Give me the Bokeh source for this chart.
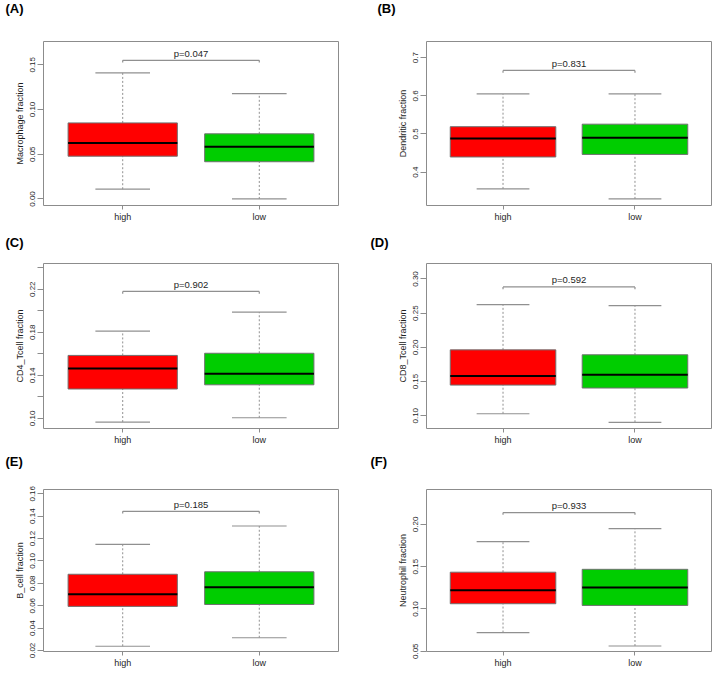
from bokeh.plotting import figure
from bokeh.layouts import gridplot
from bokeh.models import Range1d, FixedTicker, PrintfTickFormatter, ColumnDataSource
from bokeh.core.properties import value
from bokeh.embed import file_html
from bokeh.resources import INLINE

# ---------------- data ----------------
groups = ["high", "low"]
group_pos = [1, 2]
group_colors = ["#FF0000", "#00CD00"]

# (A) Macrophage
macro_lower = [0.0109, 0.0000]
macro_q1 = [0.0478, 0.0416]
macro_median = [0.0626, 0.0583]
macro_q3 = [0.0850, 0.0728]
macro_upper = [0.1410, 0.1177]
macro_p = "p=0.047"
macro_bracket = 0.155
macro_ylim = [-0.0073, 0.1760]
macro_ticks = [0.00, 0.05, 0.10, 0.15]

# (B) Dendritic
dend_lower = [0.3558, 0.3297]
dend_q1 = [0.4396, 0.4463]
dend_median = [0.4880, 0.4898]
dend_q3 = [0.5190, 0.5256]
dend_upper = [0.6050, 0.6050]
dend_p = "p=0.831"
dend_bracket = 0.6665
dend_ylim = [0.3123, 0.7425]
dend_ticks = [0.4, 0.5, 0.6, 0.7]

# (C) CD4 T cell
cd4_lower = [0.0966, 0.1006]
cd4_q1 = [0.1273, 0.1312]
cd4_median = [0.1464, 0.1415]
cd4_q3 = [0.1585, 0.1605]
cd4_upper = [0.1810, 0.1987]
cd4_p = "p=0.902"
cd4_bracket = 0.218
cd4_ylim = [0.0906, 0.2439]
cd4_ticks = [0.10, 0.14, 0.18, 0.22]
cd4_minor_ticks = [0.12, 0.16, 0.20, 0.24]

# (D) CD8 T cell
cd8_lower = [0.1029, 0.0904]
cd8_q1 = [0.1448, 0.1405]
cd8_median = [0.1582, 0.1600]
cd8_q3 = [0.1963, 0.1891]
cd8_upper = [0.2625, 0.2611]
cd8_p = "p=0.592"
cd8_bracket = 0.2884
cd8_ylim = [0.0813, 0.3226]
cd8_ticks = [0.10, 0.15, 0.20, 0.25, 0.30]

# (E) B cell
bcell_lower = [0.0238, 0.0314]
bcell_q1 = [0.0594, 0.0611]
bcell_median = [0.0703, 0.0766]
bcell_q3 = [0.0881, 0.0903]
bcell_upper = [0.1148, 0.1312]
bcell_p = "p=0.185"
bcell_bracket = 0.1443
bcell_ylim = [0.0191, 0.1638]
bcell_ticks = [0.02, 0.04, 0.06, 0.08, 0.10, 0.12, 0.14, 0.16]

# (F) Neutrophil
neut_lower = [0.0721, 0.0562]
neut_q1 = [0.1062, 0.1042]
neut_median = [0.1221, 0.1255]
neut_q3 = [0.1435, 0.1469]
neut_upper = [0.1796, 0.1951]
neut_p = "p=0.933"
neut_bracket = 0.214
neut_ylim = [0.0497, 0.2413]
neut_ticks = [0.05, 0.10, 0.15, 0.20]

# ---------------- style ----------------
FONT = "Liberation Sans"
FRAME_GRAY = "#8c8c8c"
WHISK_GRAY = "#909090"
BOX_LINE = "#707070"
TEXT_COL = "#1e1e1e"
BOX_HALF = 0.4
CAP_HALF = 0.2


def make_panel(letter, ylabel, lower, q1, med, q3, upper, ptext, bracket,
               ylim, ticks, minor, fmt, width, height, borders, title_offset,
               title_pad):
    bl, br, bt, bb = borders
    p = figure(width=width, height=height,
               x_range=Range1d(0.42, 2.58), y_range=Range1d(ylim[0], ylim[1]),
               output_backend="svg", toolbar_location=None,
               min_border_left=bl, min_border_right=br,
               min_border_top=bt, min_border_bottom=bb)
    p.background_fill_color = "white"
    p.border_fill_color = "white"
    p.xgrid.visible = False
    p.ygrid.visible = False
    p.outline_line_color = FRAME_GRAY
    p.outline_line_width = 1

    p.title.text = letter
    p.title.align = "left"
    p.title.offset = title_offset
    p.title.vertical_align = "top"
    p.title.standoff = 0
    try:
        p.title.padding = dict(left=0, right=0, top=0, bottom=title_pad)
    except Exception:
        p.title.padding = (0, 0, title_pad, 0)
    p.title.text_font = FONT
    p.title.text_font_size = "13px"
    p.title.text_font_style = "bold"
    p.title.text_color = "black"

    src = ColumnDataSource(dict(
        x=group_pos,
        left=[g - BOX_HALF for g in group_pos],
        right=[g + BOX_HALF for g in group_pos],
        cap_l=[g - CAP_HALF for g in group_pos],
        cap_r=[g + CAP_HALF for g in group_pos],
        lower=lower, q1=q1, med=med, q3=q3, upper=upper,
        color=group_colors,
    ))

    # whiskers
    p.segment(x0="x", y0="q3", x1="x", y1="upper", source=src,
              line_color=WHISK_GRAY, line_width=1, line_dash="2 2")
    p.segment(x0="x", y0="lower", x1="x", y1="q1", source=src,
              line_color=WHISK_GRAY, line_width=1, line_dash="2 2")
    # caps
    p.segment(x0="cap_l", y0="upper", x1="cap_r", y1="upper", source=src,
              line_color=WHISK_GRAY, line_width=1.2)
    p.segment(x0="cap_l", y0="lower", x1="cap_r", y1="lower", source=src,
              line_color=WHISK_GRAY, line_width=1.2)
    # boxes
    p.quad(left="left", right="right", bottom="q1", top="q3", source=src,
           fill_color="color", line_color=BOX_LINE, line_width=1)
    # medians
    p.segment(x0="left", y0="med", x1="right", y1="med", source=src,
              line_color="black", line_width=2)

    # significance bracket
    drop = 0.014 * (ylim[1] - ylim[0])
    x_a, x_b = group_pos[0], group_pos[-1]
    p.segment(x0=[x_a, x_a, x_b], y0=[bracket, bracket, bracket],
              x1=[x_b, x_a, x_b], y1=[bracket, bracket - drop, bracket - drop],
              line_color=WHISK_GRAY, line_width=1.2)
    p.text(x=[(x_a + x_b) / 2], y=[bracket], text=[ptext],
           text_font=value(FONT), text_font_size="9.5px",
           text_align="center", text_baseline="alphabetic",
           y_offset=-7, text_color=TEXT_COL)

    # x axis
    xa = p.xaxis[0]
    xa.ticker = FixedTicker(ticks=group_pos)
    xa.major_label_overrides = {g: name for g, name in zip(group_pos, groups)}
    xa.axis_line_color = None
    xa.major_tick_in = 0
    xa.major_tick_out = 4
    xa.major_tick_line_color = FRAME_GRAY
    xa.minor_tick_line_color = None
    xa.major_label_standoff = 2
    xa.major_label_text_font = FONT
    xa.major_label_text_font_size = "9px"
    xa.major_label_text_color = TEXT_COL

    # y axis
    ya = p.yaxis[0]
    ya.ticker = FixedTicker(ticks=ticks, minor_ticks=minor)
    ya.formatter = PrintfTickFormatter(format=fmt)
    ya.axis_line_color = None
    ya.major_tick_in = 0
    ya.major_tick_out = 6
    ya.minor_tick_in = 0
    ya.minor_tick_out = 6
    ya.major_tick_line_color = FRAME_GRAY
    ya.minor_tick_line_color = FRAME_GRAY
    ya.major_label_orientation = "vertical"
    ya.major_label_standoff = 2
    ya.major_label_text_font = FONT
    ya.major_label_text_font_size = "8px"
    ya.major_label_text_color = TEXT_COL
    ya.axis_label = ylabel
    ya.axis_label_standoff = 3
    ya.axis_label_text_font = FONT
    ya.axis_label_text_font_size = "9px"
    ya.axis_label_text_font_style = "normal"
    ya.axis_label_text_color = TEXT_COL
    return p


LW, RW = 360, 352
H0, H1, H2 = 224, 223, 223
L_B = (43, 22)
R_B = (66, 1)

pa = make_panel("(A)", "Macrophage fraction", macro_lower, macro_q1, macro_median,
                macro_q3, macro_upper, macro_p, macro_bracket, macro_ylim,
                macro_ticks, [], "%.2f", LW, H0, L_B + (39, 17), -38, 24)
pb = make_panel("(B)", "Dendritic fraction", dend_lower, dend_q1, dend_median,
                dend_q3, dend_upper, dend_p, dend_bracket, dend_ylim,
                dend_ticks, [], "%.1f", RW, H0, R_B + (39, 17), -49, 24)
pc = make_panel("(C)", "CD4_Tcell fraction", cd4_lower, cd4_q1, cd4_median,
                cd4_q3, cd4_upper, cd4_p, cd4_bracket, cd4_ylim,
                cd4_ticks, cd4_minor_ticks, "%.2f", LW, H1, L_B + (39, 17), -38, 12)
pd = make_panel("(D)", "CD8_Tcell fraction", cd8_lower, cd8_q1, cd8_median,
                cd8_q3, cd8_upper, cd8_p, cd8_bracket, cd8_ylim,
                cd8_ticks, [], "%.2f", RW, H1, R_B + (39, 17), -56, 12)
pe = make_panel("(E)", "B_cell fraction", bcell_lower, bcell_q1, bcell_median,
                bcell_q3, bcell_upper, bcell_p, bcell_bracket, bcell_ylim,
                bcell_ticks, [], "%.2f", LW, H2, L_B + (42, 17), -38, 19)
pf = make_panel("(F)", "Neutrophil fraction", neut_lower, neut_q1, neut_median,
                neut_q3, neut_upper, neut_p, neut_bracket, neut_ylim,
                neut_ticks, [], "%.2f", RW, H2, R_B + (42, 17), -56, 19)

grid = gridplot([[pa, pb], [pc, pd], [pe, pf]], toolbar_location=None)

open("out.html", "w").write(file_html(grid, INLINE))
